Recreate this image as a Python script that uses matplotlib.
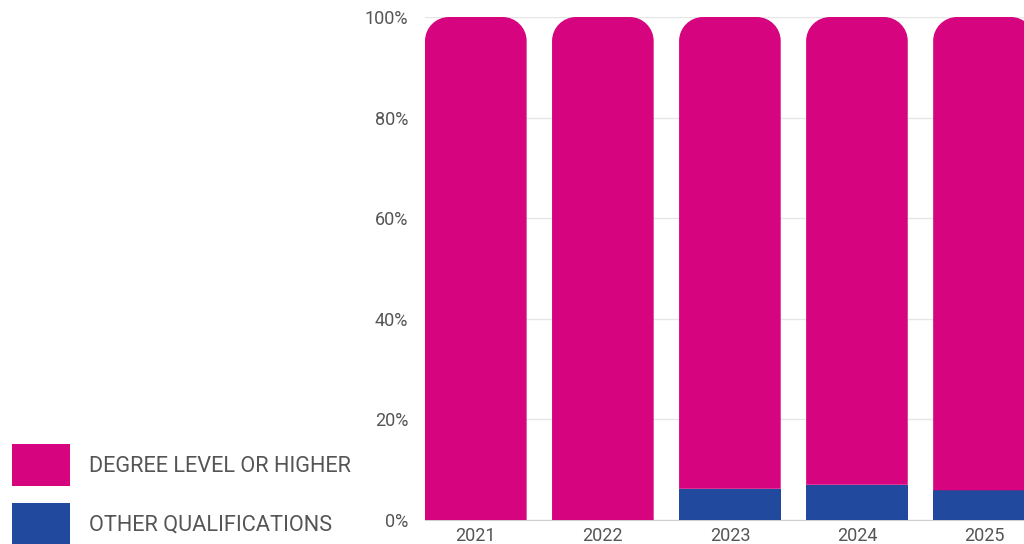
import matplotlib.pyplot as plt
from matplotlib.patches import PathPatch, Patch
from matplotlib.path import Path

# data
anios = ["2021", "2022", "2023", "2024", "2025"]
otras = [0.0, 0.0, 6.2, 7.0, 5.9]
grado = [100.0 - v for v in otras]
etiquetas = ["DEGREE LEVEL OR HIGHER", "OTHER QUALIFICATIONS"]
col_grado = "#D6047F"
col_otras = "#214A9E"

plt.rcParams['font.family'] = ['Roboto', 'DejaVu Sans']

fig = plt.figure(figsize=(10.24, 5.44), dpi=100)
ax = fig.add_axes([425 / 1024, 24 / 544, 1 - 425 / 1024, 503 / 544])

x = list(range(len(anios)))
ancho = 0.80
ax.set_xlim(-0.40, 4.315)
ax.set_ylim(0, 100)


def barra_redondeada(ax, xc, base, alto, color, rx, ry):
    # rectangulo con esquinas superiores redondeadas
    x0 = xc - ancho / 2
    x1 = xc + ancho / 2
    y0 = base
    y1 = base + alto
    k = 0.5523
    verts = [
        (x0, y0), (x0, y1 - ry),
        (x0, y1 - ry + k * ry), (x0 + rx - k * rx, y1), (x0 + rx, y1),
        (x1 - rx, y1),
        (x1 - rx + k * rx, y1), (x1, y1 - ry + k * ry), (x1, y1 - ry),
        (x1, y0), (x0, y0),
    ]
    codes = [Path.MOVETO, Path.LINETO,
             Path.CURVE4, Path.CURVE4, Path.CURVE4,
             Path.LINETO,
             Path.CURVE4, Path.CURVE4, Path.CURVE4,
             Path.LINETO, Path.CLOSEPOLY]
    ax.add_patch(PathPatch(Path(verts, codes), facecolor=color,
                           edgecolor='none', zorder=3))


rx = 24 / 127
ry = 24 / 5.03
ax.bar(x, otras, width=ancho, color=col_otras, zorder=3)
for i in x:
    barra_redondeada(ax, i, otras[i], grado[i], col_grado, rx, ry)

ax.set_yticks([0, 20, 40, 60, 80, 100])
ax.set_yticklabels(["0%", "20%", "40%", "60%", "80%", "100%"])
ax.set_xticks(x)
ax.set_xticklabels(anios)
ax.tick_params(axis='both', length=0, labelsize=13, colors='#555555')
ax.tick_params(axis='y', pad=12)
ax.tick_params(axis='x', pad=5)
ax.grid(axis='y', color='#e6e6e6', linewidth=1, zorder=0)
for lado in ['top', 'right', 'left']:
    ax.spines[lado].set_visible(False)
ax.spines['bottom'].set_color('#d0d0d0')

manejadores = [Patch(facecolor=col_grado), Patch(facecolor=col_otras)]
fig.legend(manejadores, etiquetas, loc='lower left',
           bbox_to_anchor=(12 / 1024, -1 / 544), frameon=False,
           fontsize=15.7, labelcolor='#555555', borderaxespad=0, borderpad=0,
           handlelength=2.68, handleheight=2.6, labelspacing=0.75,
           handletextpad=0.85)

fig.savefig("out.png", dpi=100)
